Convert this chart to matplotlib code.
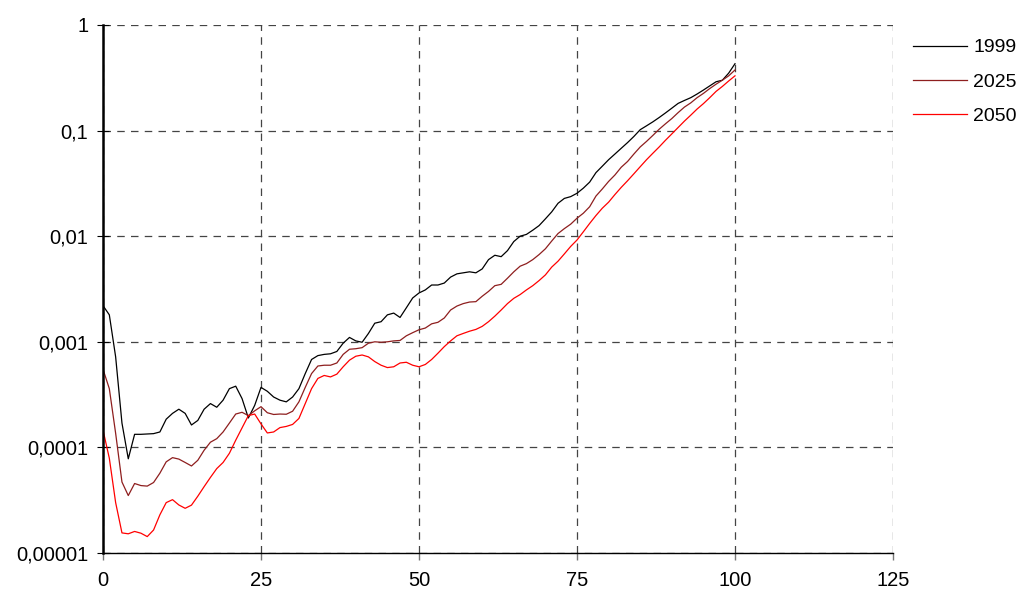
import math
import matplotlib
matplotlib.use("Agg")
import matplotlib.pyplot as plt
from matplotlib.ticker import FixedLocator, FuncFormatter

# Mortality rate by age (log scale)
ages = list(range(0, 101))

rate_1999 = [
    0.0022, 0.0018, 0.00072, 0.00017, 0.000078, 0.000133, 0.000133, 0.000134, 0.000135, 0.00014,
    0.000185, 0.00021, 0.00023, 0.00021, 0.000163, 0.00018, 0.00023, 0.00026, 0.00024, 0.00028,
    0.00036, 0.00038, 0.00029, 0.00019, 0.00025, 0.00037, 0.00034, 0.0003, 0.00028, 0.00027,
    0.0003, 0.00036, 0.0005, 0.00068, 0.00074, 0.00076, 0.00077, 0.00081, 0.00097, 0.0011,
    0.00102, 0.00099, 0.0012, 0.0015, 0.00155, 0.0018, 0.00187, 0.0017, 0.0021, 0.0026,
    0.0029, 0.0031, 0.00345, 0.00345, 0.0036, 0.0041, 0.0044, 0.0045, 0.0046, 0.0045,
    0.0049, 0.006, 0.0066, 0.0064, 0.0073, 0.0089, 0.0100, 0.0104, 0.0114, 0.0126,
    0.0146, 0.0170, 0.0205, 0.0228, 0.0237, 0.0255, 0.0285, 0.0325, 0.040, 0.046,
    0.053, 0.060, 0.068, 0.077, 0.088, 0.102, 0.111, 0.121, 0.133, 0.147,
    0.163, 0.181, 0.193, 0.205, 0.222, 0.242, 0.265, 0.29, 0.30, 0.35,
    0.43,
]

rate_2025 = [
    0.00055, 0.00036, 0.000136, 0.000047, 0.000035, 0.0000455, 0.0000435, 0.000043, 0.0000465, 0.000057,
    0.000073, 0.00008, 0.0000775, 0.000072, 0.0000667, 0.0000755, 0.000094, 0.000112, 0.000121, 0.00014,
    0.00017, 0.000207, 0.000215, 0.0002, 0.000222, 0.000243, 0.000213, 0.000205, 0.000207, 0.000206,
    0.00022, 0.00027, 0.00037, 0.0005, 0.00059, 0.0006, 0.0006, 0.00063, 0.00076, 0.00085,
    0.00086, 0.00088, 0.00097, 0.001, 0.00099, 0.001, 0.00102, 0.00103, 0.00114, 0.00122,
    0.0013, 0.00135, 0.00148, 0.00153, 0.00168, 0.002, 0.00218, 0.0023, 0.00238, 0.0024,
    0.0027, 0.003, 0.0034, 0.0035, 0.004, 0.0046, 0.0052, 0.0055, 0.006, 0.0067,
    0.0076, 0.009, 0.0106, 0.0118, 0.013, 0.0148, 0.0165, 0.019, 0.024, 0.028,
    0.033, 0.038, 0.045, 0.051, 0.060, 0.070, 0.079, 0.090, 0.103, 0.116,
    0.13, 0.148, 0.167, 0.183, 0.205, 0.225, 0.25, 0.275, 0.30, 0.33,
    0.375,
]

rate_2050 = [
    0.000146, 0.000079, 0.00003, 0.0000155, 0.0000152, 0.000016, 0.0000154, 0.0000143, 0.0000165, 0.000023,
    0.00003, 0.000032, 0.0000285, 0.0000265, 0.0000284, 0.0000345, 0.0000425, 0.000052, 0.000063, 0.000072,
    0.000088, 0.000117, 0.000153, 0.0002, 0.000207, 0.000167, 0.000137, 0.00014, 0.000154, 0.000158,
    0.000165, 0.000188, 0.00026, 0.00036, 0.00045, 0.00048, 0.000465, 0.000494, 0.00058, 0.00067,
    0.00073, 0.00075, 0.00072, 0.00065, 0.0006, 0.00057, 0.00058, 0.00063, 0.00064, 0.0006,
    0.00058, 0.00061, 0.00068, 0.00078, 0.0009, 0.00102, 0.00114, 0.0012, 0.00126, 0.00131,
    0.0014, 0.00155, 0.00175, 0.002, 0.0023, 0.00258, 0.0028, 0.0031, 0.0034, 0.0038,
    0.0043, 0.0051, 0.0058, 0.0068, 0.008, 0.0092, 0.011, 0.0132, 0.0157, 0.0184,
    0.021, 0.0248, 0.029, 0.0335, 0.039, 0.0455, 0.053, 0.061, 0.070, 0.081,
    0.093, 0.107, 0.123, 0.14, 0.16, 0.18, 0.205, 0.235, 0.262, 0.295,
    0.33,
]

series_labels = ["1999", "2025", "2050"]
x_ticks = [0, 25, 50, 75, 100, 125]
y_ticks = [0.00001, 0.0001, 0.001, 0.01, 0.1, 1]

plt.rcParams["font.family"] = ["Liberation Sans", "DejaVu Sans"]

fig = plt.figure(figsize=(10.21, 5.92), dpi=100)
ax = fig.add_axes([103 / 1021, 1 - 553 / 592, 790 / 1021, 528 / 592])

colors = ["#000000", "#8E1E1E", "#FF0000"]
for values, label, color in zip([rate_1999, rate_2025, rate_2050], series_labels, colors):
    ax.plot(ages, values, color=color, lw=0.9, label=label)

ax.set_yscale("log")
ax.set_xlim(0, 125)
ax.set_ylim(0.00001, 1)
ax.xaxis.set_major_locator(FixedLocator(x_ticks))
ax.yaxis.set_major_locator(FixedLocator(y_ticks))
ax.yaxis.set_minor_locator(FixedLocator([]))


def comma_fmt(v, pos):
    # decimal comma labels: 0,1 / 0,01 / ...
    if v >= 1:
        return "1"
    digits = abs(int(round(math.log10(v))))
    return f"{v:.{digits}f}".replace(".", ",")


ax.yaxis.set_major_formatter(FuncFormatter(comma_fmt))

ax.grid(True, which="major", color="#444444", lw=0.9, linestyle=(0, (6, 5)))
ax.set_axisbelow(True)

for side in ["top", "right"]:
    ax.spines[side].set_visible(False)
ax.spines["left"].set_linewidth(1.8)
ax.spines["bottom"].set_linewidth(1.0)

ax.tick_params(axis="y", direction="inout", length=9, width=0.8, labelsize=14.5, pad=6)
ax.tick_params(axis="x", direction="out", length=5, width=1.0, color="#777777", labelsize=14.5, pad=8)

fig.legend(loc="upper left", bbox_to_anchor=(905 / 1021, 1 - 31 / 592), frameon=False,
           fontsize=14, handlelength=2.8, handletextpad=0.3, labelspacing=0.85,
           borderaxespad=0)

fig.savefig("out.png", dpi=100)
